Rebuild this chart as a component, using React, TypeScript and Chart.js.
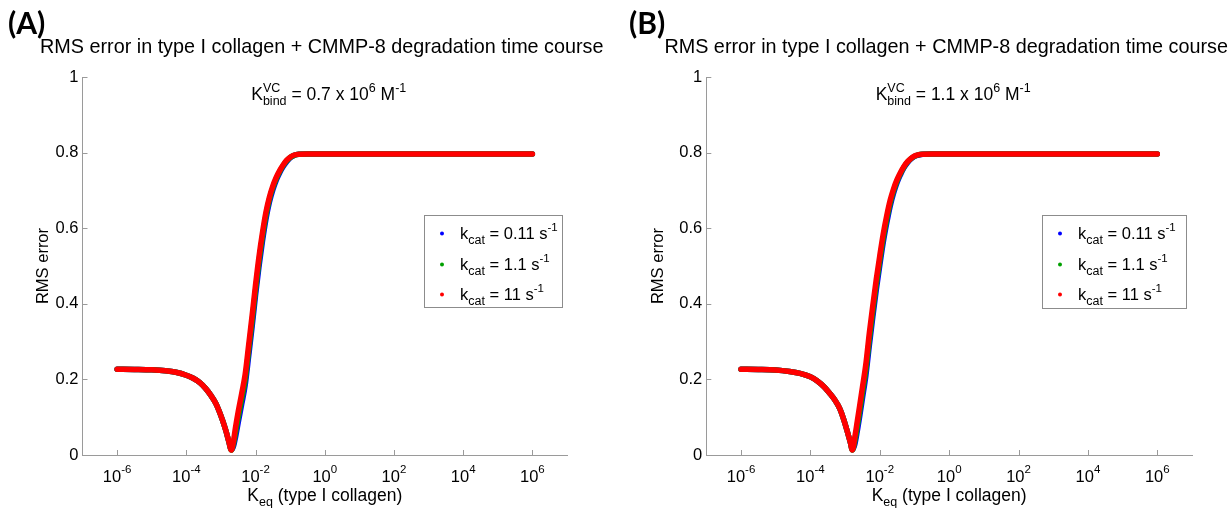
import React, { useEffect, useRef } from "react";
import { Chart, registerables } from "chart.js";

Chart.register(...registerables);

// ---------------- data ----------------
// log10(Keq) sample positions, panel A
const KEQ_EXP_A = [-6, -5.5, -5, -4.6, -4.3, -4, -3.8, -3.6, -3.45, -3.3, -3.15, -3.05, -2.95, -2.85, -2.77, -2.7, -2.64, -2.58, -2.5, -2.4, -2.3, -2.2, -2.1, -2, -1.9, -1.8, -1.7, -1.6, -1.5, -1.4, -1.3, -1.2, -1.1, -1, -0.9, -0.75, -0.5, 0, 2, 4, 6];
const RMS_A_RED = [0.227, 0.2265, 0.2255, 0.223, 0.219, 0.211, 0.203, 0.191, 0.177, 0.159, 0.137, 0.116, 0.091, 0.062, 0.035, 0.013, 0.035, 0.072, 0.115, 0.163, 0.213, 0.29, 0.368, 0.45, 0.525, 0.588, 0.642, 0.682, 0.712, 0.735, 0.753, 0.768, 0.78, 0.788, 0.793, 0.7955, 0.796, 0.796, 0.796, 0.796, 0.796];
const RMS_A_GREEN = [0.227, 0.2265, 0.2255, 0.223, 0.219, 0.211, 0.203, 0.191, 0.177, 0.159, 0.137, 0.116, 0.091, 0.062, 0.035, 0.013, 0.028, 0.058, 0.1, 0.148, 0.198, 0.275, 0.353, 0.436, 0.512, 0.577, 0.633, 0.676, 0.707, 0.731, 0.75, 0.766, 0.778, 0.787, 0.792, 0.7955, 0.796, 0.796, 0.796, 0.796, 0.796];
const RMS_A_BLUE = [0.227, 0.2265, 0.2255, 0.223, 0.219, 0.211, 0.203, 0.191, 0.177, 0.159, 0.137, 0.116, 0.091, 0.062, 0.035, 0.014, 0.022, 0.046, 0.086, 0.134, 0.184, 0.26, 0.338, 0.422, 0.498, 0.565, 0.623, 0.668, 0.701, 0.727, 0.747, 0.763, 0.776, 0.786, 0.792, 0.7955, 0.796, 0.796, 0.796, 0.796, 0.796];

// log10(Keq) sample positions, panel B
const KEQ_EXP_B = [-6, -5.5, -5, -4.6, -4.3, -4, -3.8, -3.6, -3.45, -3.3, -3.15, -3.05, -2.95, -2.85, -2.79, -2.72, -2.65, -2.58, -2.5, -2.4, -2.3, -2.2, -2.1, -2, -1.9, -1.8, -1.7, -1.6, -1.5, -1.4, -1.3, -1.2, -1.1, -1, -0.9, -0.75, -0.5, 0, 2, 4, 6];
const RMS_B_RED = [0.227, 0.2265, 0.225, 0.221, 0.216, 0.207, 0.196, 0.18, 0.164, 0.146, 0.122, 0.097, 0.067, 0.034, 0.013, 0.047, 0.088, 0.13, 0.179, 0.241, 0.323, 0.396, 0.465, 0.527, 0.585, 0.633, 0.674, 0.705, 0.729, 0.748, 0.764, 0.776, 0.785, 0.791, 0.794, 0.7955, 0.796, 0.796, 0.796, 0.796, 0.796];
const RMS_B_GREEN = [0.227, 0.2265, 0.225, 0.221, 0.216, 0.207, 0.196, 0.18, 0.164, 0.146, 0.122, 0.097, 0.067, 0.034, 0.013, 0.036, 0.074, 0.115, 0.164, 0.225, 0.306, 0.38, 0.451, 0.514, 0.573, 0.623, 0.666, 0.699, 0.725, 0.745, 0.762, 0.775, 0.784, 0.79, 0.794, 0.7955, 0.796, 0.796, 0.796, 0.796, 0.796];
const RMS_B_BLUE = [0.227, 0.2265, 0.225, 0.221, 0.216, 0.207, 0.196, 0.18, 0.164, 0.146, 0.122, 0.097, 0.067, 0.034, 0.014, 0.028, 0.062, 0.101, 0.149, 0.21, 0.29, 0.365, 0.437, 0.501, 0.562, 0.613, 0.658, 0.693, 0.721, 0.742, 0.76, 0.773, 0.783, 0.79, 0.793, 0.7955, 0.796, 0.796, 0.796, 0.796, 0.796];

const X_TICK_EXPONENTS = [-6, -4, -2, 0, 2, 4, 6];
const Y_TICKS = [0, 0.2, 0.4, 0.6, 0.8, 1];
const KCAT_LABELS = ["0.11", "1.1", "11"];
const SERIES_COLORS = ["#0000ff", "#00a000", "#ff0000"]; // blue, green, red (legend order)
const TITLE = "RMS error in type I collagen + CMMP-8 degradation time course";
const Y_TITLE = "RMS error";
const PANEL_LETTERS = ["(A)", "(B)"];
const KBIND_VALUES = ["0.7", "1.1"];

// ---------------- drawing helpers ----------------
const FONT = '"Liberation Sans", Arial, Helvetica, sans-serif';
const fnt = (size: number, weight = "normal", family = FONT) => `${weight} ${size}px ${family}`;

type Seg = { t?: string; size: number; dy?: number; stack?: [string, string]; stackDy?: [number, number] };

function segWidth(ctx: CanvasRenderingContext2D, s: Seg) {
  ctx.font = fnt(s.size);
  if (s.stack) return Math.max(ctx.measureText(s.stack[0]).width, ctx.measureText(s.stack[1]).width);
  return ctx.measureText(s.t || "").width;
}

function drawRich(ctx: CanvasRenderingContext2D, segs: Seg[], x: number, y: number, align: "left" | "center") {
  const widths = segs.map((s) => segWidth(ctx, s));
  const total = widths.reduce((a, b) => a + b, 0);
  let cx = align === "center" ? x - total / 2 : x;
  ctx.textAlign = "left";
  ctx.textBaseline = "alphabetic";
  segs.forEach((s, i) => {
    ctx.font = fnt(s.size);
    if (s.stack) {
      ctx.fillText(s.stack[0], cx, y + (s.stackDy ? s.stackDy[0] : -8));
      ctx.fillText(s.stack[1], cx, y + (s.stackDy ? s.stackDy[1] : 5));
    } else {
      ctx.fillText(s.t || "", cx, y + (s.dy || 0));
    }
    cx += widths[i];
  });
}

type PanelProps = {
  idx: number;
  exps: number[];
  blue: number[];
  green: number[];
  red: number[];
  padLeft: number;
  padRight: number;
  letterX: number;
  legend: { x: number; y: number; w: number; h: number };
};

const AXIS_COLOR = "#9a9a9a";
const W = 615;
const H = 508;

function Panel(props: PanelProps) {
  const ref = useRef<HTMLCanvasElement>(null);
  useEffect(() => {
    const { exps, blue, green, red, idx, legend, letterX } = props;
    const toPts = (vals: number[]) => exps.map((e, i) => ({ x: Math.pow(10, e), y: vals[i] }));
    const series = [blue, green, red];

    const panelPlugin = {
      id: "panelDecor" + idx,
      afterDraw(chart: any) {
        const ctx: CanvasRenderingContext2D = chart.ctx;
        const { left, right, top, bottom } = chart.chartArea;
        const xs = chart.scales.x;
        const ys = chart.scales.y;
        ctx.save();
        // inward tick marks
        ctx.strokeStyle = AXIS_COLOR;
        ctx.lineWidth = 1;
        ctx.beginPath();
        Y_TICKS.forEach((v) => {
          const y = Math.round(ys.getPixelForValue(v)) + 0.5;
          ctx.moveTo(left, y);
          ctx.lineTo(left + 5, y);
        });
        X_TICK_EXPONENTS.forEach((e) => {
          const x = Math.round(xs.getPixelForValue(Math.pow(10, e))) + 0.5;
          ctx.moveTo(x, bottom);
          ctx.lineTo(x, bottom - 5);
        });
        ctx.stroke();

        ctx.fillStyle = "#000";
        // x tick labels 10^n
        X_TICK_EXPONENTS.forEach((e) => {
          const x = xs.getPixelForValue(Math.pow(10, e));
          drawRich(ctx, [{ t: "10", size: 16.5 }, { t: String(e), size: 11.5, dy: -9 }], x, 482, "center");
        });
        const cxPlot = (left + right) / 2;
        // x axis title
        drawRich(
          ctx,
          [{ t: "K", size: 17.5 }, { t: "eq", size: 12.5, dy: 5 }, { t: " (type I collagen)", size: 17.5 }],
          cxPlot,
          501,
          "center"
        );
        // y axis title
        ctx.save();
        ctx.translate(48, (top + bottom) / 2);
        ctx.rotate(-Math.PI / 2);
        ctx.font = fnt(16.5);
        ctx.textAlign = "center";
        ctx.textBaseline = "alphabetic";
        ctx.fillText(Y_TITLE, 0, 0);
        ctx.restore();

        // chart title
        ctx.font = fnt(19.8);
        ctx.textAlign = "center";
        ctx.fillText(TITLE, cxPlot - 3, 53);

        // annotation K_bind^VC
        drawRich(
          ctx,
          [
            { t: "K", size: 17.5 },
            { stack: ["VC", "bind"], size: 12.5, stackDy: [-8, 5] },
            { t: " = " + KBIND_VALUES[idx] + " x 10", size: 17.5 },
            { t: "6", size: 12.5, dy: -8 },
            { t: " M", size: 17.5 },
            { t: "-1", size: 12.5, dy: -8 },
          ],
          cxPlot + 4,
          100,
          "center"
        );

        // legend box
        ctx.fillStyle = "#fff";
        ctx.fillRect(legend.x, legend.y, legend.w, legend.h);
        ctx.strokeStyle = "#8c8c8c";
        ctx.strokeRect(legend.x + 0.5, legend.y + 0.5, legend.w, legend.h);
        const rowBase = [24, 55, 85];
        KCAT_LABELS.forEach((lab, i) => {
          const by = legend.y + rowBase[i];
          ctx.fillStyle = SERIES_COLORS[i];
          ctx.beginPath();
          ctx.arc(legend.x + 18, by - 5.5, 2, 0, Math.PI * 2);
          ctx.fill();
          ctx.fillStyle = "#000";
          drawRich(
            ctx,
            [
              { t: "k", size: 16.5 },
              { t: "cat", size: 12.5, dy: 5 },
              { t: " = " + lab + " s", size: 16.5 },
              { t: "-1", size: 11.5, dy: -8 },
            ],
            legend.x + 36,
            by,
            "left"
          );
        });

        // panel letter
        ctx.fillStyle = "#000";
        ctx.font = fnt(30, "bold", 'Lato, "Open Sans", "Liberation Sans", sans-serif');
        ctx.textAlign = "left";
        ctx.fillText(PANEL_LETTERS[idx], letterX, 34);
        ctx.restore();
      },
    };

    const chart = new Chart(ref.current as HTMLCanvasElement, {
      type: "line",
      data: {
        datasets: series.map((vals, i) => ({
          label: "k_cat = " + KCAT_LABELS[i] + " s^-1",
          data: toPts(vals),
          borderColor: SERIES_COLORS[i],
          backgroundColor: SERIES_COLORS[i],
          borderWidth: 5.5,
          pointRadius: 0,
          fill: false,
          cubicInterpolationMode: "monotone",
          borderCapStyle: "round",
          borderJoinStyle: "round",
          order: 2 - i,
        })),
      },
      options: {
        animation: false,
        responsive: false,
        maintainAspectRatio: false,
        devicePixelRatio: 1,
        layout: { padding: { left: props.padLeft, right: props.padRight, top: 77, bottom: 0 } },
        plugins: { legend: { display: false }, title: { display: false }, tooltip: { enabled: false } },
        scales: {
          x: {
            type: "logarithmic",
            min: 1e-7,
            max: 1e7,
            grid: { display: false, drawTicks: false },
            border: { display: true, color: AXIS_COLOR, width: 1 },
            ticks: { display: false },
            afterFit: (s: any) => {
              s.height = 53;
            },
          },
          y: {
            type: "linear",
            min: 0,
            max: 1,
            grid: { display: false, drawTicks: false },
            border: { display: true, color: AXIS_COLOR, width: 1 },
            ticks: {
              stepSize: 0.2,
              padding: 4,
              color: "#000",
              font: { family: FONT, size: 16.5 },
              callback: (v: any) => String(Number(Number(v).toFixed(1))),
            },
            afterFit: (s: any) => {
              s.width = 40;
            },
          },
        },
      } as any,
      plugins: [panelPlugin],
    } as any);
    return () => chart.destroy();
  }, []);
  return <canvas ref={ref} width={W} height={H} style={{ display: "block", width: W, height: H }} />;
}

export default function App() {
  return (
    <div style={{ position: "absolute", left: 0, top: 0, width: 1230, height: 508, display: "flex", background: "#fff" }}>
      <Panel
        idx={0}
        exps={KEQ_EXP_A}
        blue={RMS_A_BLUE}
        green={RMS_A_GREEN}
        red={RMS_A_RED}
        padLeft={42.5}
        padRight={48}
        letterX={8}
        legend={{ x: 424, y: 215, w: 138, h: 92 }}
      />
      <Panel
        idx={1}
        exps={KEQ_EXP_B}
        blue={RMS_B_BLUE}
        green={RMS_B_GREEN}
        red={RMS_B_RED}
        padLeft={51.3}
        padRight={38}
        letterX={14}
        legend={{ x: 427, y: 215, w: 144, h: 93 }}
      />
    </div>
  );
}
